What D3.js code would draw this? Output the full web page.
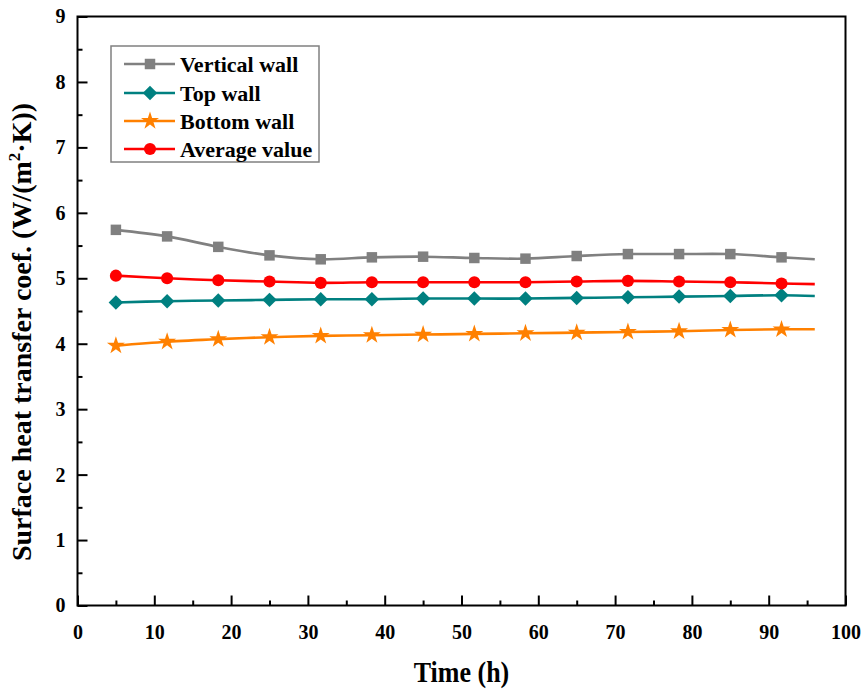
<!DOCTYPE html>
<html>
<head>
<meta charset="utf-8">
<script src="https://cdn.jsdelivr.net/npm/d3@7"></script>
<style>
  html, body { margin: 0; padding: 0; background: #fff; }
  svg { display: block; }
  text { font-family: "Liberation Serif", "Times New Roman", serif; font-weight: bold; fill: #000; }
</style>
</head>
<body>
<svg id="chart" width="862" height="689"></svg>
<script>
// Sample times (h); the last point closes the curve and carries no marker
const times = [5, 11.67, 18.33, 25, 31.67, 38.33, 45, 51.67, 58.33, 65, 71.67, 78.33, 85, 91.67, 96];

const verticalWall = [5.74, 5.64, 5.48, 5.35, 5.29, 5.32, 5.33, 5.31, 5.30, 5.34, 5.37, 5.37, 5.37, 5.32, 5.29];
const topWall      = [4.63, 4.65, 4.66, 4.67, 4.68, 4.68, 4.69, 4.69, 4.69, 4.70, 4.71, 4.72, 4.73, 4.74, 4.73];
const bottomWall   = [3.97, 4.03, 4.07, 4.10, 4.12, 4.13, 4.14, 4.15, 4.16, 4.17, 4.18, 4.19, 4.21, 4.22, 4.22];
const averageValue = [5.04, 5.00, 4.97, 4.95, 4.93, 4.94, 4.94, 4.94, 4.94, 4.95, 4.96, 4.95, 4.94, 4.92, 4.91];

const seriesNames  = ["Vertical wall", "Top wall", "Bottom wall", "Average value"];
const seriesColors = ["#808080", "#008080", "#ff8000", "#ff0000"];

// Diamond drawn as a square turned by 45 degrees
const symbolRhombus = {
  draw(context, size) {
    const r = Math.sqrt(size / 2);
    context.moveTo(0, -r);
    context.lineTo(r, 0);
    context.lineTo(0, r);
    context.lineTo(-r, 0);
    context.closePath();
  }
};
const seriesSymbols = [d3.symbolSquare, symbolRhombus, d3.symbolStar, d3.symbolCircle];
const seriesSizes  = [110, 105, 100, 115];

const xTicks = d3.range(0, 101, 10);
const yTicks = d3.range(0, 10, 1);

const xLabel = "Time (h)";

const svg = d3.select("#chart");
const W = 862, H = 689;
const margin = { left: 77.5, right: W - 845.5, top: 16.5, bottom: H - 605.5 };

const x = d3.scaleLinear().domain([0, 100]).range([margin.left, W - margin.right]);
const y = d3.scaleLinear().domain([0, 9]).range([H - margin.bottom, margin.top]);

const allSeries = [verticalWall, topWall, bottomWall, averageValue];

// Series curves
const line = d3.line()
  .x((d, i) => x(times[i]))
  .y(d => y(d))
  .curve(d3.curveCatmullRom.alpha(0.5));

allSeries.forEach((vals, k) => {
  svg.append("path")
    .datum(vals)
    .attr("d", line)
    .attr("fill", "none")
    .attr("stroke", seriesColors[k])
    .attr("stroke-width", 2.6);
});

allSeries.forEach((vals, k) => {
  const sym = d3.symbol().type(seriesSymbols[k]).size(seriesSizes[k]);
  svg.append("g")
    .selectAll("path")
    .data(vals.slice(0, vals.length - 1))
    .join("path")
    .attr("d", sym)
    .attr("transform", (d, i) => `translate(${x(times[i])},${y(d)})`)
    .attr("fill", seriesColors[k]);
});

// Axes: ticks point inward
const xAxis = d3.axisBottom(x).tickValues(xTicks).tickSize(-10).tickPadding(19).tickFormat(d3.format("d"));
const xMinor = d3.axisBottom(x).tickValues(d3.range(5, 100, 10)).tickSize(-5).tickFormat("");
const yAxis = d3.axisLeft(y).tickValues(yTicks).tickSize(-10).tickPadding(12).tickFormat(d3.format("d"));
const yMinor = d3.axisLeft(y).tickValues(d3.range(0.5, 9, 1)).tickSize(-5).tickFormat("");

function styleAxis(g) {
  g.select(".domain").remove();
  g.selectAll(".tick line").attr("stroke", "#000").attr("stroke-width", 2);
  g.selectAll(".tick text").style("font-size", "20px").style("font-family", "'Liberation Serif', serif").style("font-weight", "bold");
}

svg.append("g").attr("transform", `translate(0,${y(0)})`).call(xAxis).call(styleAxis);
svg.append("g").attr("transform", `translate(0,${y(0)})`).call(xMinor).call(styleAxis);
svg.append("g").attr("transform", `translate(${x(0)},0)`).call(yAxis).call(styleAxis);
svg.append("g").attr("transform", `translate(${x(0)},0)`).call(yMinor).call(styleAxis);

// Frame
svg.append("rect")
  .attr("x", x(0)).attr("y", y(9))
  .attr("width", x(100) - x(0)).attr("height", y(0) - y(9))
  .attr("fill", "none").attr("stroke", "#000").attr("stroke-width", 2);

// Axis titles
svg.append("text")
  .attr("transform", `translate(${(x(0) + x(100)) / 2},682) scale(1,1.12)`)
  .attr("text-anchor", "middle")
  .style("font-size", "26px")
  .text(xLabel);

const yTitle = svg.append("text")
  .attr("transform", `translate(31,332) rotate(-90)`)
  .attr("text-anchor", "middle")
  .style("font-size", "28px");
yTitle.append("tspan").text("Surface heat transfer coef. (W/(m");
yTitle.append("tspan").attr("dy", -11).style("font-size", "17px").text("2");
yTitle.append("tspan").attr("dy", 11).text("·K))");

// Legend
const legend = svg.append("g");
legend.append("rect")
  .attr("x", 111).attr("y", 46).attr("width", 208).attr("height", 116)
  .attr("fill", "#fff").attr("stroke", "#808080").attr("stroke-width", 1.5);

const rowY = [64, 93, 121, 149];
seriesNames.forEach((name, k) => {
  const g = legend.append("g").attr("transform", `translate(0,${rowY[k]})`);
  g.append("line").attr("x1", 124).attr("x2", 175).attr("y1", 0).attr("y2", 0)
    .attr("stroke", seriesColors[k]).attr("stroke-width", 2.6);
  g.append("path").attr("d", d3.symbol().type(seriesSymbols[k]).size(seriesSizes[k]))
    .attr("transform", "translate(150,0)").attr("fill", seriesColors[k]);
  g.append("text").attr("x", 180).attr("y", 7.5).style("font-size", "22px").text(name);
});
</script>
</body>
</html>
